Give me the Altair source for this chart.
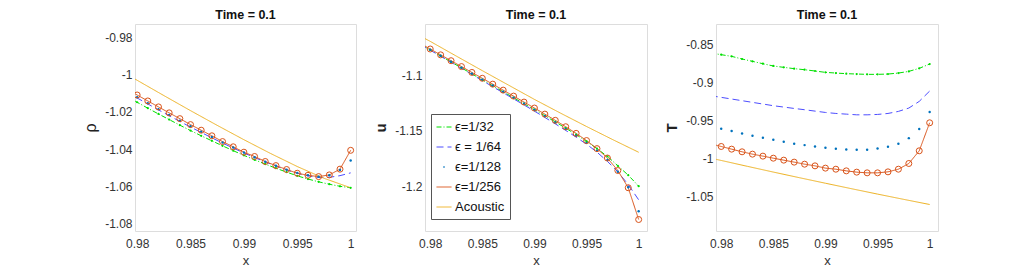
import altair as alt
import pandas as pd

# ---------------- data ----------------
x_vals = [0.979, 0.980, 0.981, 0.982, 0.983, 0.984, 0.985, 0.986, 0.987, 0.988, 0.989,
          0.990, 0.991, 0.992, 0.993, 0.994, 0.995, 0.996, 0.997, 0.998, 0.999, 1.000]

rho_32 = [-1.0116, -1.0148, -1.0180, -1.0211, -1.0241, -1.0271, -1.0300, -1.0328, -1.0355,
          -1.0382, -1.0408, -1.0433, -1.0457, -1.0480, -1.0502, -1.0523, -1.0543, -1.0560,
          -1.0575, -1.0588, -1.0599, -1.0607]
rho_64 = [-1.0093, -1.0125, -1.0157, -1.0189, -1.0220, -1.0251, -1.0281, -1.0310, -1.0339,
          -1.0367, -1.0394, -1.0420, -1.0445, -1.0468, -1.0490, -1.0511, -1.0529, -1.0543,
          -1.0552, -1.0551, -1.0542, -1.0527]
rho_128 = [-1.0089, -1.0121, -1.0153, -1.0185, -1.0216, -1.0247, -1.0277, -1.0306, -1.0335,
           -1.0364, -1.0391, -1.0418, -1.0443, -1.0467, -1.0489, -1.0510, -1.0527, -1.0540,
           -1.0548, -1.0540, -1.0512, -1.0461]
rho_256 = [-1.0077, -1.0109, -1.0141, -1.0173, -1.0205, -1.0236, -1.0268, -1.0298, -1.0328,
           -1.0359, -1.0387, -1.0416, -1.0439, -1.0466, -1.0488, -1.0509, -1.0529, -1.0540,
           -1.0547, -1.0538, -1.0507, -1.0406]

u_32 = [-1.0714, -1.0768, -1.0822, -1.0876, -1.0930, -1.0984, -1.1038, -1.1092, -1.1146,
        -1.1200, -1.1254, -1.1308, -1.1363, -1.1418, -1.1475, -1.1533, -1.1595, -1.1660,
        -1.1730, -1.1815, -1.1900, -1.2000]
u_64 = [-1.0716, -1.0770, -1.0824, -1.0879, -1.0934, -1.0989, -1.1045, -1.1100, -1.1155,
        -1.1210, -1.1265, -1.1321, -1.1378, -1.1436, -1.1495, -1.1556, -1.1620, -1.1692,
        -1.1775, -1.1870, -1.1985, -1.2123]
u_128 = [-1.0712, -1.0766, -1.0820, -1.0874, -1.0928, -1.0982, -1.1036, -1.1090, -1.1145,
         -1.1200, -1.1255, -1.1310, -1.1366, -1.1423, -1.1482, -1.1543, -1.1608, -1.1680,
         -1.1762, -1.1870, -1.2010, -1.2226]
u_256 = [-1.0706, -1.0759, -1.0812, -1.0865, -1.0918, -1.0971, -1.1024, -1.1077, -1.1131,
         -1.1185, -1.1239, -1.1293, -1.1348, -1.1404, -1.1462, -1.1522, -1.1587, -1.1660,
         -1.1745, -1.1858, -1.2014, -1.2301]

T_32 = [-0.8610, -0.8632, -0.8654, -0.8689, -0.8720, -0.8751, -0.8781, -0.8799, -0.8816,
        -0.8830, -0.8847, -0.8865, -0.8874, -0.8882, -0.8887, -0.8891, -0.8891, -0.8887,
        -0.8874, -0.8852, -0.8812, -0.8755]
T_64 = [-0.9172, -0.9194, -0.9216, -0.9238, -0.9260, -0.9282, -0.9304, -0.9322, -0.9340,
        -0.9357, -0.9375, -0.9393, -0.9406, -0.9415, -0.9424, -0.9424, -0.9419, -0.9406,
        -0.9379, -0.9335, -0.9247, -0.9111]
T_128 = [-0.9578, -0.9608, -0.9638, -0.9669, -0.9700, -0.9726, -0.9753, -0.9779, -0.9806,
         -0.9823, -0.9841, -0.9858, -0.9871, -0.9880, -0.9885, -0.9885, -0.9867, -0.9845,
         -0.9806, -0.9731, -0.9612, -0.9388]
T_256 = [-0.9806, -0.9841, -0.9876, -0.9911, -0.9942, -0.9968, -0.9995, -1.0021, -1.0047,
         -1.0074, -1.0096, -1.0126, -1.0140, -1.0162, -1.0179, -1.0188, -1.0188, -1.0175,
         -1.0140, -1.0065, -0.9898, -0.9529]

x_ac = [0.979, 0.980, 0.9825, 0.985, 0.9875, 0.990, 0.9925, 0.995, 0.9975, 1.000]
rho_ac = [-0.9997, -1.0030, -1.0112, -1.0193, -1.0272, -1.0349, -1.0423, -1.0493, -1.0556, -1.0607]
u_ac = [-1.0640, -1.0690, -1.0823, -1.0955, -1.1085, -1.1215, -1.1339, -1.1460, -1.1578, -1.1693]
T_ac = [-0.9995, -1.0025, -1.0102, -1.0178, -1.0252, -1.0325, -1.0397, -1.0468, -1.0537, -1.0605]

labels = ["ϵ=1/32", "ϵ = 1/64", "ϵ=1/128", "ϵ=1/256", "Acoustic"]
colors = ["#00e000", "#4d4dff", "#0072BD", "#D95319", "#EDB120"]
dashes = [[5, 2, 1, 2], [7, 4], [0, 6.5, 2, 30], [1, 0], [1, 0]]

x_ticks = [0.98, 0.985, 0.99, 0.995, 1.0]

FONT = "Liberation Sans"


def panel(s32, s64, s128, s256, sac, xdom, ydom, yticks, ytitle, title_bold,
          title_size, width, show_legend):
    rows = []
    for lab, arr in zip(labels[:4], [s32, s64, s128, s256]):
        for xv, yv in zip(x_vals, arr):
            rows.append({"x": xv, "y": yv, "series": lab})
    for xv, yv in zip(x_ac, sac):
        rows.append({"x": xv, "y": yv, "series": labels[4]})
    df = pd.DataFrame(rows)

    xenc = alt.X("x:Q", scale=alt.Scale(domain=xdom, nice=False, zero=False),
                 axis=alt.Axis(values=x_ticks, title="x", grid=False, domain=False,
                               ticks=False, labelPadding=7, labelFontSize=12,
                               labelExpr="'' + datum.value", labelFont=FONT,
                               labelColor="#333333", titleFont=FONT, titleFontSize=13,
                               titleFontWeight="normal", titleColor="#333333",
                               titlePadding=5))
    yenc = alt.Y("y:Q", scale=alt.Scale(domain=ydom, nice=False, zero=False),
                 axis=alt.Axis(values=yticks, title=ytitle, grid=False, domain=False,
                               ticks=False, labelPadding=3, labelFontSize=12,
                               labelExpr="'' + datum.value", labelFont=FONT,
                               labelColor="#333333", titleFont=FONT,
                               titleFontSize=title_size,
                               titleFontWeight="bold" if title_bold else "normal",
                               titleColor="#222222", titlePadding=6))

    if show_legend:
        leg = alt.Legend(title=None, orient="none", legendX=6, legendY=90,
                         symbolType="stroke", symbolSize=225, symbolStrokeWidth=1,
                         labelFont=FONT, labelFontSize=13, labelColor="#111111",
                         strokeColor="#555555", fillColor="white", padding=5,
                         rowPadding=5, labelOffset=3, cornerRadius=0)
    else:
        leg = None

    line_df = df[df["series"] != labels[2]]
    lines = alt.Chart(line_df).mark_line(strokeWidth=1, clip=True).encode(
        x=xenc, y=yenc,
        color=alt.Color("series:N", scale=alt.Scale(domain=labels, range=colors), legend=leg),
        strokeDash=alt.StrokeDash("series:N", scale=alt.Scale(domain=labels, range=dashes),
                                  legend=leg),
    )
    green_pts = alt.Chart(df[df["series"] == labels[0]]).mark_circle(
        size=5, color=colors[0], opacity=1, clip=True).encode(x=xenc, y=yenc)
    dots = alt.Chart(df[df["series"] == labels[2]]).mark_circle(
        size=6, color=colors[2], opacity=1, clip=True).encode(x=xenc, y=yenc)
    circles = alt.Chart(df[df["series"] == labels[3]]).mark_point(
        shape="circle", size=36, filled=False, color=colors[3], strokeWidth=1,
        opacity=1, clip=True).encode(x=xenc, y=yenc)

    return alt.layer(lines, green_pts, dots, circles).properties(
        width=width, height=207,
        title=alt.TitleParams("Time = 0.1", fontSize=12.5, fontWeight="bold", font=FONT,
                              color="#111111", anchor="middle", offset=3),
    )


p1 = panel(rho_32, rho_64, rho_128, rho_256, rho_ac, [0.9798, 1.0005], [-1.0839, -0.9728],
           [-0.98, -1.0, -1.02, -1.04, -1.06, -1.08], "ρ", False, 16, 221, False)
p2 = panel(u_32, u_64, u_128, u_256, u_ac, [0.9795, 1.0008], [-1.2405, -1.0533],
           [-1.1, -1.15, -1.2], "u", True, 15, 222, True)
p3 = panel(T_32, T_64, T_128, T_256, T_ac, [0.9795, 1.0008], [-1.0954, -0.8228],
           [-0.85, -0.9, -0.95, -1.0, -1.05], "T", True, 15, 222, False)

chart = alt.hconcat(p1, p2, p3, spacing=69, bounds="flush").resolve_scale(
    x="independent", y="independent", color="independent", strokeDash="independent"
).resolve_legend(color="independent", strokeDash="independent").properties(
    padding={"left": 74, "top": 0, "right": 5, "bottom": 5},
).configure_view(stroke="#8a8a8a", strokeWidth=1).configure(background="white")

chart.save("out.html", embed_options={"renderer": "svg", "actions": False})
